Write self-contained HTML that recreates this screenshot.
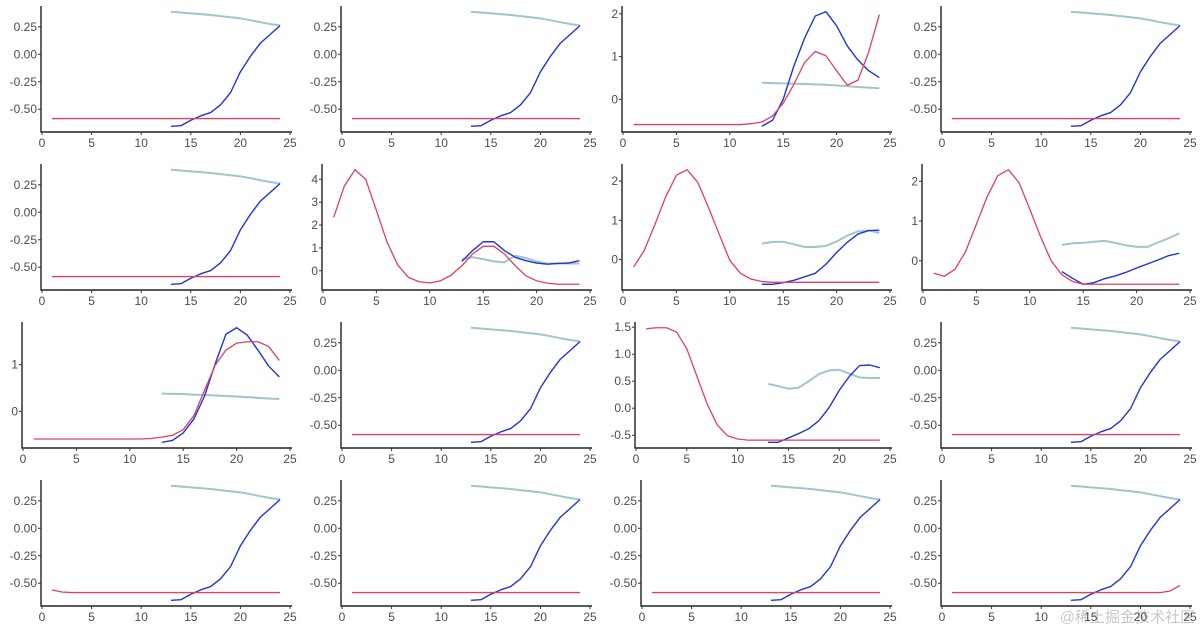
<!DOCTYPE html>
<html><head><meta charset="utf-8">
<style>
html,body{margin:0;padding:0;background:#fff;}
svg{display:block;font-family:"Liberation Sans","Noto Sans CJK SC",sans-serif;}
</style></head>
<body>
<svg id="chart" width="1200" height="633" viewBox="0 0 1200 633" xmlns="http://www.w3.org/2000/svg">
<text x="1195" y="622" text-anchor="end" font-size="15" fill="#c8c8c8">@稀土掘金技术社区</text>
</svg>
<script>
const xRed = [1,2,3,4,5,6,7,8,9,10,11,12,13,14,15,16,17,18,19,20,21,22,23,24];
const xOther = [13,14,15,16,17,18,19,20,21,22,23,24];
const xTicks = [0,5,10,15,20,25];
const defRed = [-0.585,-0.585,-0.585,-0.585,-0.585,-0.585,-0.585,-0.585,-0.585,-0.585,-0.585,-0.585,-0.585,-0.585,-0.585,-0.585,-0.585,-0.585,-0.585,-0.585,-0.585,-0.585,-0.585,-0.585];
const defBlue = [-0.655,-0.65,-0.6,-0.56,-0.53,-0.46,-0.35,-0.16,-0.02,0.1,0.18,0.262];
const defTeal = [0.387,0.38,0.372,0.365,0.357,0.347,0.337,0.327,0.31,0.292,0.275,0.262];
const defTicks = [-0.5,-0.25,0,0.25];
const r1c3Red = [-0.59,-0.59,-0.59,-0.59,-0.59,-0.59,-0.59,-0.59,-0.59,-0.59,-0.59,-0.57,-0.53,-0.39,-0.09,0.35,0.86,1.12,1.02,0.67,0.33,0.45,1.1,1.98];
const r1c3Blue = [-0.63,-0.49,0.0,0.78,1.43,1.95,2.05,1.72,1.25,0.92,0.67,0.51];
const r1c3Teal = [0.39,0.38,0.375,0.365,0.36,0.35,0.34,0.325,0.31,0.29,0.275,0.26];
const r2c2Red = [2.34,3.71,4.42,4.0,2.64,1.25,0.25,-0.29,-0.48,-0.53,-0.44,-0.19,0.22,0.73,1.07,1.07,0.73,0.22,-0.22,-0.44,-0.54,-0.59,-0.59,-0.59];
const r2c2Blue = [0.41,0.88,1.27,1.27,0.88,0.59,0.44,0.34,0.29,0.32,0.34,0.44];
const r2c2Teal = [0.51,0.59,0.51,0.41,0.37,0.66,0.56,0.41,0.32,0.32,0.32,0.32];
const r2c3Red = [-0.19,0.24,0.9,1.6,2.15,2.29,1.97,1.33,0.65,-0.02,-0.35,-0.5,-0.56,-0.58,-0.58,-0.58,-0.58,-0.58,-0.58,-0.58,-0.58,-0.58,-0.58,-0.58];
const r2c3Blue = [-0.63,-0.63,-0.59,-0.53,-0.44,-0.35,-0.12,0.18,0.44,0.65,0.74,0.75];
const r2c3Teal = [0.41,0.45,0.45,0.39,0.32,0.32,0.35,0.46,0.61,0.72,0.74,0.68];
const r2c4Red = [-0.31,-0.39,-0.21,0.24,0.92,1.61,2.14,2.29,1.96,1.3,0.61,0,-0.35,-0.52,-0.59,-0.59,-0.59,-0.59,-0.59,-0.59,-0.59,-0.59,-0.59,-0.59];
const r2c4Blue = [-0.27,-0.44,-0.59,-0.55,-0.45,-0.38,-0.29,-0.18,-0.08,0.02,0.13,0.19];
const r2c4Teal = [0.4,0.44,0.45,0.48,0.5,0.45,0.39,0.35,0.35,0.46,0.57,0.69];
const r3c1Red = [-0.59,-0.59,-0.59,-0.59,-0.59,-0.59,-0.59,-0.59,-0.59,-0.59,-0.59,-0.58,-0.55,-0.51,-0.39,-0.09,0.45,0.99,1.31,1.46,1.49,1.49,1.39,1.09];
const r3c1Blue = [-0.66,-0.62,-0.46,-0.16,0.33,1.02,1.65,1.79,1.63,1.31,0.97,0.74];
const r3c1Teal = [0.38,0.375,0.37,0.36,0.35,0.34,0.33,0.32,0.305,0.29,0.275,0.265];
const r3c3Red = [1.47,1.49,1.49,1.41,1.1,0.59,0.08,-0.31,-0.51,-0.57,-0.59,-0.59,-0.59,-0.59,-0.59,-0.59,-0.59,-0.59,-0.59,-0.59,-0.59,-0.59,-0.59,-0.59];
const r3c3Blue = [-0.63,-0.63,-0.55,-0.47,-0.38,-0.23,0.01,0.33,0.59,0.79,0.8,0.75];
const r3c3Teal = [0.45,0.41,0.36,0.38,0.5,0.63,0.7,0.71,0.64,0.57,0.56,0.56];
const r4c1Red = [-0.56,-0.58,-0.585,-0.585,-0.585,-0.585,-0.585,-0.585,-0.585,-0.585,-0.585,-0.585,-0.585,-0.585,-0.585,-0.585,-0.585,-0.585,-0.585,-0.585,-0.585,-0.585,-0.585,-0.585];
const r4c4Red = [-0.585,-0.585,-0.585,-0.585,-0.585,-0.585,-0.585,-0.585,-0.585,-0.585,-0.585,-0.585,-0.585,-0.585,-0.585,-0.585,-0.585,-0.585,-0.585,-0.585,-0.585,-0.585,-0.57,-0.52];
const ticks012 = [0,1,2];
const ticks01234 = [0,1,2,3,4];
const ticks01 = [0,1];
const ticksHalf = [-0.5,0,0.5,1,1.5];

const panels = [
 [defRed,defBlue,defTeal,defTicks,2],[defRed,defBlue,defTeal,defTicks,2],[r1c3Red,r1c3Blue,r1c3Teal,ticks012,0],[defRed,defBlue,defTeal,defTicks,2],
 [defRed,defBlue,defTeal,defTicks,2],[r2c2Red,r2c2Blue,r2c2Teal,ticks01234,0],[r2c3Red,r2c3Blue,r2c3Teal,ticks012,0],[r2c4Red,r2c4Blue,r2c4Teal,ticks012,0],
 [r3c1Red,r3c1Blue,r3c1Teal,ticks01,0],[defRed,defBlue,defTeal,defTicks,2],[r3c3Red,r3c3Blue,r3c3Teal,ticksHalf,1],[defRed,defBlue,defTeal,defTicks,2],
 [r4c1Red,defBlue,defTeal,defTicks,2],[defRed,defBlue,defTeal,defTicks,2],[defRed,defBlue,defTeal,defTicks,2],[r4c4Red,defBlue,defTeal,defTicks,2]
];

const NS = "http://www.w3.org/2000/svg";
const svg = document.getElementById('chart');
function mk(tag, attrs, parent){ const e=document.createElementNS(NS,tag); for(const k in attrs) e.setAttribute(k,attrs[k]); (parent||svg).appendChild(e); return e; }
function textW(s){ let w=0; for(const ch of s){ w += ch==='-'?3.66:(ch==='.'?3.06:6.12);} return w; }

panels.forEach((p,i)=>{
  const [red,blue,teal,yt,dec]=p;
  const r=Math.floor(i/4), c=i%4;
  const cellL=300*c, top=6+158*r, bottom=132+158*r;
  const labels=yt.map(v=>v.toFixed(dec));
  const maxW=Math.max(...labels.map(textW));
  const axisX=Math.round(cellL+16+maxW);
  const g=mk('g',{});
  
  
  const x0=axisX+1, x25=cellL+290;
  const xs=v=>x0+(x25-x0)*v/25;
  const all=red.concat(blue,teal);
  const mn=Math.min(...all), mx=Math.max(...all), pad=(mx-mn)*0.05;
  const lo=mn-pad, hi=mx+pad;
  const ys=v=>bottom-(v-lo)/(hi-lo)*(bottom-top);
  const ya=mk('line',{x1:axisX,y1:top,x2:axisX,y2:bottom+0.5,stroke:'#222','stroke-width':1.4},g);
   
  const xa=mk('line',{x1:axisX-0.5,y1:bottom,x2:cellL+292,y2:bottom,stroke:'#222','stroke-width':1.4},g);
   
  yt.forEach((v,k)=>{
    const y=ys(v);
    const t=mk('line',{x1:axisX-3,y1:y,x2:axisX,y2:y,stroke:'#333','stroke-width':1},g);
     
    const tx=mk('text',{x:axisX-4,y:y+4,'text-anchor':'end','font-size':12,fill:'#4d4d4d'},g);
     
    tx.textContent=labels[k];
  });
  xTicks.forEach(v=>{
    const x=xs(v);
    const t=mk('line',{x1:x,y1:bottom,x2:x,y2:bottom+3,stroke:'#333','stroke-width':1},g);
     
    const tx=mk('text',{x:x,y:bottom+15,'text-anchor':'middle','font-size':12,fill:'#4d4d4d'},g);
     
    tx.textContent=String(v);
  });
  const line=(xv,yv,col,w,name)=>{
    const pts=xv.map((x,k)=>xs(x).toFixed(2)+','+ys(yv[k]).toFixed(2)).join(' ');
    const pl=mk('polyline',{points:pts,fill:'none',stroke:col,'stroke-width':w,'stroke-linejoin':'round'},g);
     
  };
  line(xOther,teal,'#9fc6cc',2,'teal-series-line');
  line(xOther,blue,'#1f34d9',1.4,'blue-series-line');
  line(xRed,red,'#e2405c',1.3,'red-series-line');
});
</script>
</body></html>
